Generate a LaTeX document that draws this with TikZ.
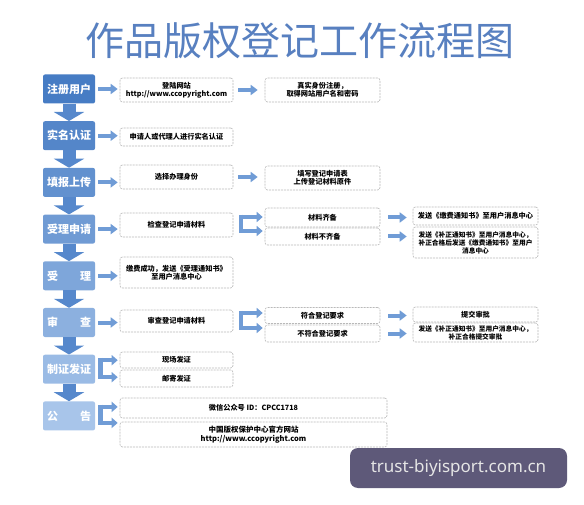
\documentclass[tikz,border=0pt]{standalone}
\usepackage{fontspec}
\setmainfont{Noto Sans CJK SC}
\newfontfamily\wmfont{Noto Sans}
\usetikzlibrary{shapes,calc,arrows.meta}
\definecolor{stepA}{RGB}{70,124,196}
\definecolor{stepZ}{RGB}{168,197,234}
\definecolor{arr}{RGB}{112,156,214}
\definecolor{darr}{RGB}{86,136,204}
\definecolor{ttl}{RGB}{88,128,192}
\definecolor{wm}{RGB}{94,89,121}

\begin{document}
\begin{tikzpicture}[x=1pt,y=-1pt,
  lbox/.style={rectangle,rounded corners=2pt,minimum width=52pt,minimum height=29pt,inner sep=0pt,text=white,font=\fontsize{11}{11}\selectfont\bfseries},
  dbox/.style={rectangle,draw=gray!55,dash pattern=on 2pt off 1pt,line width=0.6pt,rounded corners=2.5pt,fill=white,inner sep=0pt,align=center,font=\fontsize{7.2}{8}\selectfont\bfseries},
  colA/.style={dbox,minimum width=113pt},
  colB/.style={dbox,minimum width=115pt},
  colC/.style={dbox,minimum width=125pt},
  small/.style={font=\fontsize{6.7}{8}\selectfont\bfseries},
  harr/.style={draw=arr,line width=4pt,-{Triangle[width=10pt,length=7pt]}},
  varr/.style={draw=darr,line width=13pt,-{Triangle[width=30pt,length=9pt]}},
  brk/.style={draw=arr,line width=4.5pt,shorten >=2pt,-{Triangle[width=10pt,length=6pt]}},
  bar/.style={draw=arr,line width=4.5pt}]
  \fill[white] (0,0) rectangle (584,505);
  \useasboundingbox (0,0) rectangle (584,505);
  \node[font=\fontsize{39}{39}\selectfont,text=ttl] (T) at (300,41) {作品版权登记工作流程图};
  \foreach \t [count=\i] in {注册用户,实名认证,填报上传,受理申请,{受\hspace{2em}理},{审\hspace{2em}查},制证发证,{公\hspace{2em}告}} {
    \pgfmathsetmacro\p{100-(\i-1)*100/7}
    \node[lbox,fill=stepA!\p!stepZ] (L\i) at (69,{89+46.7*(\i-1)}) {\t};
  }
  \foreach \i [evaluate=\i as \j using int(\i+1)] in {1,...,7}
    \draw[varr] (L\i.south) -- (L\j.north);
  \node[colA,minimum height=24pt] (A1) at (176.5,90) {登陆网站\\http://www.ccopyright.com};
  \node[colB,minimum height=24pt] (B1) at ($(A1)+(146,0)$) {真实身份注册，\\取得网站用户名和密码};
  \node[colA,minimum height=18pt] (A2) at (176.5,137) {申请人或代理人进行实名认证};
  \node[colA,minimum height=24pt] (A3) at (176.5,177) {选择办理身份};
  \node[colB,minimum height=24pt] (B3) at ($(A3)+(146,1)$) {填写登记申请表\\上传登记材料原件};
  \node[colA,minimum height=24pt] (A4) at (176.5,225) {检查登记申请材料};
  \node[colB,minimum height=19pt] (B4a) at (322.5,217.5) {材料齐备};
  \node[colB,minimum height=17pt] (B4b) at (322.5,236.5) {材料不齐备};
  \node[colC,minimum height=18pt] (C4a) at (475.5,216) {发送《缴费通知书》至用户消息中心};
  \node[colC,small,minimum height=31pt] (C4b) at (475.5,242.5) {发送《补正通知书》至用户消息中心，\\补正合格后发送《缴费通知书》至用户\\消息中心};
  \node[colA,minimum height=31pt] (A5) at (176.5,272.5) {缴费成功，发送《受理通知书》\\至用户消息中心};
  \node[colA,minimum height=22pt] (A6) at (176.5,321) {审查登记申请材料};
  \node[colB,minimum height=16pt] (B6a) at (322.5,315.5) {符合登记要求};
  \node[colB,minimum height=17pt] (B6b) at (322.5,333.5) {不符合登记要求};
  \node[colC,minimum height=15pt] (C6a) at (475.5,314.5) {提交审批};
  \node[colC,small,minimum height=19pt] (C6b) at (475.5,332.5) {发送《补正通知书》至用户消息中心，\\补正合格提交审批};
  \node[colA,minimum height=16pt] (A7a) at (176.5,360) {现场发证};
  \node[colA,minimum height=17pt] (A7b) at (176.5,378.5) {邮寄发证};
  \node[dbox,minimum width=267pt,minimum height=20pt] (A8a) at (253.5,408) {微信公众号 ID：CPCC1718};
  \node[dbox,minimum width=267pt,minimum height=25pt,font=\fontsize{7.5}{9}\selectfont\bfseries] (A8b) at (253.5,434.5) {中国版权保护中心官方网站\\http://www.ccopyright.com};
  \foreach \i in {1,...,6}
    \draw[harr,shorten <=3pt,shorten >=2pt] (L\i.east) -- (L\i.east -| A\i.west);
  \foreach \s/\e in {A1/B1,A3/B3}
    \draw[harr,shorten <=5pt,shorten >=7pt] (\s.east) -- (\s.east -| \e.west);
  \foreach \s/\e in {B4a/C4a,B4b/C4b,B6a/C6a,B6b/C6b}
    \draw[harr,shorten <=8pt,shorten >=6pt] (\s.east) -- (\s.east -| \e.west);
  \foreach \k/\n/\a/\b/\dx/\u/\d in {K4/A4/B4a/B4b/7.5/-8/6,K6/A6/B6a/B6b/7.5/-8/7,K7/L7/A7a/A7b/5.5/-9/8,K8/L8/A8a/A8b/5.5/-9/7} {
    \coordinate (\k u) at ($(\n.east)+(\dx,\u)$);
    \coordinate (\k d) at ($(\n.east)+(\dx,\d)$);
    \draw[bar] ($(\k u)+(0,-2.25)$) -- ($(\k d)+(0,2.25)$);
    \draw[brk] (\k u) -- (\k u -| \a.west);
    \draw[brk] (\k d) -- (\k d -| \b.west);
  }
  \node[fill=wm,rounded corners=8pt,minimum width=217pt,minimum height=40pt,inner sep=0pt,text=white!90!black,font=\wmfont\fontsize{17}{17}\selectfont] (W) at (458.5,468) {trust-biyisport.com.cn};
\end{tikzpicture}
\end{document}
